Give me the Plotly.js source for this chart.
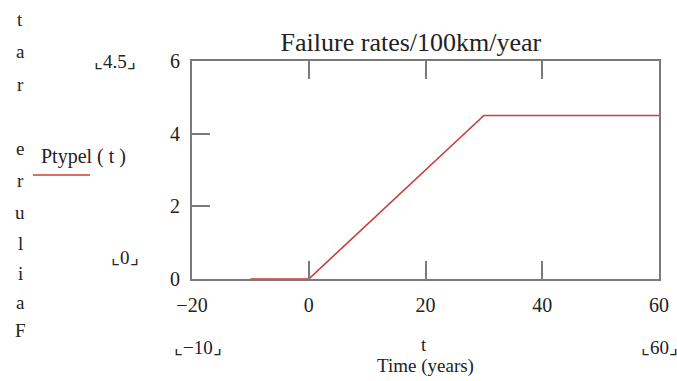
<!DOCTYPE html>
<html>
<head>
<meta charset="utf-8">
<script src="https://cdn.plot.ly/plotly-3.0.1.min.js"></script>
<style>html,body{margin:0;padding:0;background:#fff;}#chart{width:677px;height:381px;}</style>
</head>
<body>
<div id="chart"></div>
<script>
// Data
var timeYears = [-10, 0, 30, 60];
var failureRate = [0, 0, 4.5, 4.5];
var xTickVals = [-20, 0, 20, 40, 60];
var yTickVals = [0, 2, 4, 6];
var titleText = 'Failure rates/100km/year';
var xLabel = 'Time (years)';
var seriesName = 'Ptypel ( t )';
var sideLetters = ['t','a','r','','e','r','u','l','i','a','F'];

var serif = 'Liberation Serif, Times New Roman, serif';
var grey = '#7a7a7a';
var red = '#cc3c3c';
var ink = '#222';

var trace = {
  x: timeYears, y: failureRate, type: 'scatter', mode: 'lines',
  line: {color: red, width: 1.6}, name: seriesName, showlegend: false,
  cliponaxis: false
};

function px(x){return (x-192)/467;}
function py(y){return 1-(y-61)/218;}
var ann = [];
var letterY = [20, 52, 84, 116, 148, 180, 212, 243, 273, 302, 330];
sideLetters.forEach(function(c, i){
  if (!c) return;
  ann.push({xref:'paper', yref:'paper', x: px(20), y: py(letterY[i]),
    text: c, showarrow:false, xanchor:'center', yanchor:'middle',
    font:{family:serif, size:19, color:ink}});
});
function note(x, y, text, size){
  ann.push({xref:'paper', yref:'paper', x:px(x), y:py(y), text:text, showarrow:false,
    xanchor:'center', yanchor:'middle', font:{family:serif, size:size || 19, color:ink}});
}
note(83, 156, seriesName, 20);
note(115, 61, '\u231E' + failureRate[2] + '\u231F');
note(125, 257, '\u231E' + failureRate[0] + '\u231F');
note(198, 347, '\u231E\u2212' + Math.abs(timeYears[0]) + '\u231F');
note(424, 344, 't');
note(659, 347, '\u231E' + timeYears[3] + '\u231F');

var layout = {
  width: 677, height: 381,
  margin: {l:192, r:18, t:61, b:102},
  paper_bgcolor:'#fff', plot_bgcolor:'#fff',
  font: {family: serif, size: 19, color: ink},
  title: {text: titleText, x: 0.607, xanchor:'center', y: 1-42/381, yanchor:'middle',
    font:{family:serif, size:26, color:ink}},
  xaxis: {
    range: [-20, 60], tickvals: xTickVals, ticks:'inside', ticklen:18, tickwidth:2, tickcolor:grey,
    showline:true, linecolor:grey, linewidth:2, mirror:'ticks', showgrid:false, zeroline:false,
    ticklabelstandoff: 7, tickfont:{family:serif, size:20, color:ink},
    title:{text:xLabel, standoff: 44, font:{family:serif, size:19, color:ink}}
  },
  yaxis: {
    range: [0, 6], tickvals: yTickVals, ticks:'inside', ticklen:18, tickwidth:2, tickcolor:grey,
    showline:true, linecolor:grey, linewidth:2, mirror:true, showgrid:false, zeroline:false,
    ticklabelstandoff: 6, tickfont:{family:serif, size:20, color:ink}
  },
  shapes: [{type:'line', xref:'paper', yref:'paper', x0:px(33), x1:px(90), y0:py(175), y1:py(175),
    line:{color:red, width:1.6}}],
  annotations: ann
};

Plotly.newPlot('chart', [trace], layout, {displayModeBar:false, staticPlot:true});
</script>
</body>
</html>
